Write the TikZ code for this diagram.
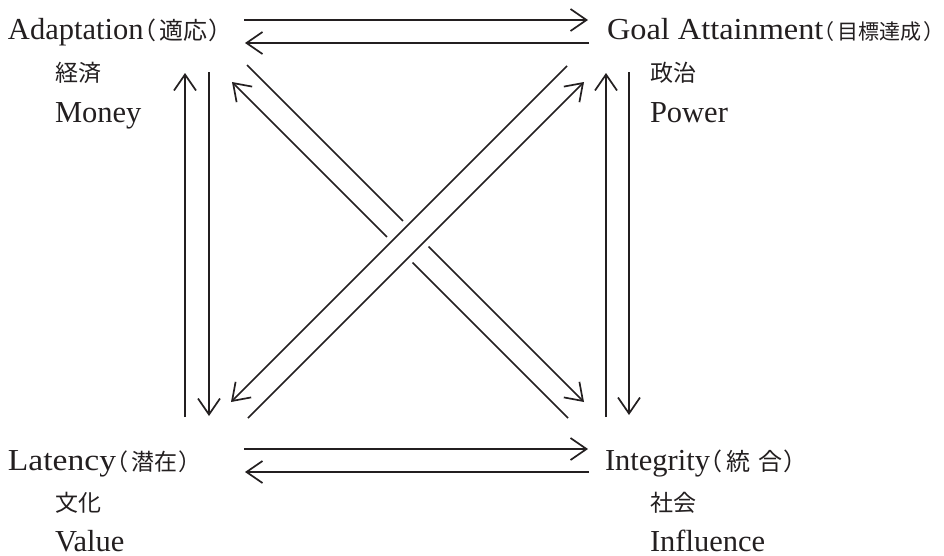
\documentclass[tikz,border=0pt]{standalone}
\usepackage{fontspec}
\setmainfont{Liberation Serif}
\newfontfamily\cjk[RawFeature={+palt}]{Noto Sans CJK JP}
\usetikzlibrary{arrows.meta}
\definecolor{ink}{RGB}{35,31,32}
% Japanese text at a given size (default 23pt)
\newcommand{\jp}[2][23pt]{{\cjk\fontsize{#1}{#1}\selectfont #2}}
% Japanese gloss in parentheses after a Latin term
\newcommand{\gloss}[2][24pt]{\jp[#1]{（\kern4pt #2\kern2pt）}}

\begin{document}
\begin{tikzpicture}[x=1pt,y=-1pt,
  lbl/.style={anchor=base west, inner sep=0pt, outer sep=0pt, text=ink,
              font=\fontsize{30.5pt}{32pt}\selectfont},
  sub/.style={anchor=base west, inner sep=0pt, outer sep=0pt, text=ink},
  medium/.style={sub, font=\fontsize{30.5pt}{32pt}\selectfont},
  flow/.style={draw=ink, line width=1.7pt,
               -{Straight Barb[length=16pt,width=22pt]}},
  gap/.style={draw=white, line width=36pt}]

% canvas
\fill[white] (0,0) rectangle (944,555);

% the four functions
\node[lbl] (A) at (8,39)    {Adaptation\gloss{適応}};
\node[lbl] (G) at (607,39)  {\scalebox{1.06}[1]{Goal Attainment}\gloss[21pt]{目標達成}};
\node[lbl] (L) at (8,470)   {\scalebox{1.1}[1]{Latency}\gloss[23pt]{潜在}};
\node[lbl] (I) at (605,470) {Integrity\gloss{統\kern8pt 合}};

% sub-systems and media
\node[sub]    (Asys) at (55,81)   {\jp{経済}};
\node[medium] (Amed) at (55,122)  {Money};
\node[sub]    (Gsys) at (650,81)  {\jp{政治}};
\node[medium] (Gmed) at (650,122) {Power};
\node[sub]    (Lsys) at (55,511)  {\jp{文化}};
\node[medium] (Lmed) at (55,551)  {Value};
\node[sub]    (Isys) at (650,511) {\jp{社会}};
\node[medium] (Imed) at (650,551) {Influence};

% connector end points
\coordinate (t1s) at (244,20);  \coordinate (t1e) at (588,20);
\coordinate (t2s) at (589,43);  \coordinate (t2e) at (245,43);
\coordinate (b1s) at (244,449); \coordinate (b1e) at (588,449);
\coordinate (b2s) at (589,472); \coordinate (b2e) at (245,472);
\coordinate (l1s) at (185,417); \coordinate (l1e) at (185,73);
\coordinate (l2s) at (209,72);  \coordinate (l2e) at (209,416);
\coordinate (r1s) at (606,417); \coordinate (r1e) at (606,73);
\coordinate (r2s) at (629,72);  \coordinate (r2e) at (629,415);
\coordinate (d1s) at (568,418); \coordinate (d1e) at (232,82);
\coordinate (d2s) at (247,65);  \coordinate (d2e) at (584,402);
\coordinate (d3s) at (248,418); \coordinate (d3e) at (584,82);
\coordinate (d4s) at (567,66);  \coordinate (d4e) at (231,402);
\coordinate (gapa) at (394.75,254.75); \coordinate (gapb) at (420.75,228.75);

% A <-> G
\draw[flow] (t1s) -- (t1e);
\draw[flow] (t2s) -- (t2e);
% L <-> I
\draw[flow] (b1s) -- (b1e);
\draw[flow] (b2s) -- (b2e);
% A <-> L
\draw[flow] (l1s) -- (l1e);
\draw[flow] (l2s) -- (l2e);
% G <-> I
\draw[flow] (r1s) -- (r1e);
\draw[flow] (r2s) -- (r2e);
% A <-> I (passes under)
\draw[flow] (d1s) -- (d1e);
\draw[flow] (d2s) -- (d2e);
% break in the lower pair where the other pair crosses
\draw[gap] (gapa) -- (gapb);
% L <-> G (passes over)
\draw[flow] (d3s) -- (d3e);
\draw[flow] (d4s) -- (d4e);

\end{tikzpicture}
\end{document}
